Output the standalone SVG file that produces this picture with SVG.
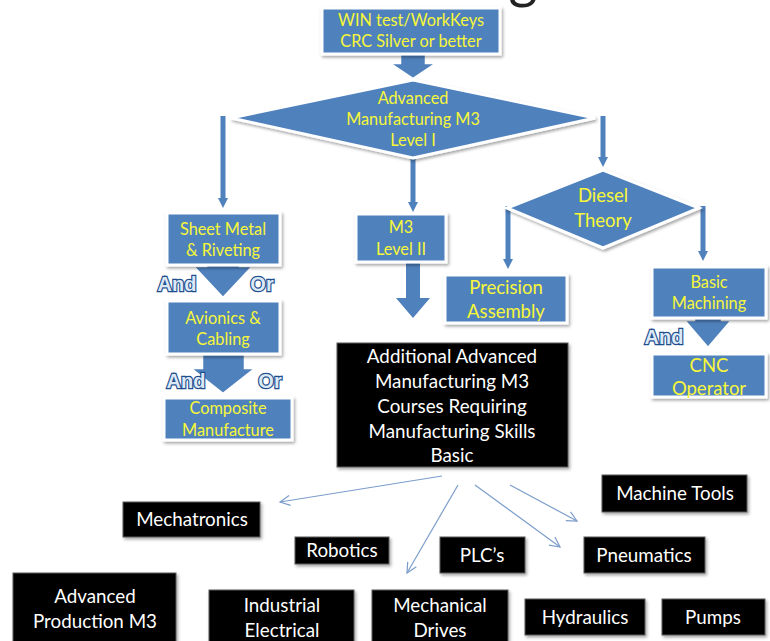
<svg xmlns="http://www.w3.org/2000/svg" width="770" height="641" viewBox="0 0 770 641">
<style>
.bb{fill:#4F81BD;stroke:#fff;stroke-width:3;filter:url(#sh)}
.bt{fill:#F7F73A;font-family:Lato,"Liberation Sans",sans-serif;font-size:16.3px;text-anchor:middle}
.bt2{fill:#F7F73A;font-family:Lato,"Liberation Sans",sans-serif;font-size:18.5px;text-anchor:middle}
.kb{fill:#000;stroke:#5a5a5a;stroke-width:1;filter:url(#sh)}
.kt{fill:#fff;font-family:Lato,"Liberation Sans",sans-serif;font-size:18.8px;text-anchor:middle}
.ln{stroke:#4F81BD;stroke-width:5;fill:none}
.ah{fill:#4F81BD}
.blk{fill:#4F81BD;stroke:#fff;stroke-width:2.5;stroke-linejoin:miter}
.thin{stroke:#7C9DCB;stroke-width:1.2;fill:none;marker-end:url(#oa)}
.wa{font-family:"Liberation Sans",sans-serif;font-weight:bold;font-size:20px;fill:#DCE8F6;stroke:#1F4E8C;stroke-width:2.4;paint-order:stroke;text-anchor:middle}
</style>
<defs>
<filter id="sh" x="-10%" y="-10%" width="130%" height="140%">
<feDropShadow dx="1.5" dy="2" stdDeviation="1.8" flood-color="#000" flood-opacity="0.35"/>
</filter>
<marker id="oa" viewBox="0 0 12 12" refX="11" refY="6" markerWidth="12" markerHeight="12" markerUnits="userSpaceOnUse" orient="auto">
<path d="M1,1 L11,6 L1,11" fill="none" stroke="#7C9DCB" stroke-width="1.2"/>
</marker>
</defs>
<rect width="770" height="641" fill="#fff"/>
<text x="523" y="-3" font-family="Lato,'Liberation Sans',sans-serif" font-size="56" fill="#222" text-anchor="middle">g</text>

<g id="connectors">
<polygon class="blk" points="400,53 426,53 426,63 437,63 413,79 389,63 400,63"/>
<line class="ln" x1="223" y1="116" x2="223" y2="199"/>
<polygon class="ah" points="218,198 228,198 223,208"/>
<line class="ln" x1="413" y1="156" x2="413" y2="203"/>
<polygon class="ah" points="408,202 418,202 413,212"/>
<line class="ln" x1="603" y1="116" x2="603" y2="158"/>
<polygon class="ah" points="598,157 608,157 603,167"/>
<line class="ln" x1="508" y1="206" x2="508" y2="260"/>
<polygon class="ah" points="503,259 513,259 508,269"/>
<line class="ln" x1="703" y1="206" x2="703" y2="252"/>
<polygon class="ah" points="698,251 708,251 703,261"/>
<polygon fill="#4F81BD" points="406,263 420,263 420,298 430,298 413,318 396,298 406,298"/>
<polygon class="blk" points="206,264 240,264 240,266 253,266 223,298 193,266 206,266"/>
<polygon class="blk" points="202,354 245,354 245,368 256,368 223,394 190,368 202,368"/>
<polygon class="blk" points="694,317 722,317 722,320 732,320 708,348 684,320 694,320"/>
<line class="thin" x1="442" y1="476" x2="280" y2="502"/>
<line class="thin" x1="458" y1="485" x2="407" y2="573"/>
<line class="thin" x1="475" y1="485" x2="560" y2="547"/>
<line class="thin" x1="510" y1="485" x2="577" y2="521"/>
</g>

<g id="win">
<rect class="bb" x="322" y="8" width="178" height="46"/>
<text class="bt" x="411" y="26">WIN test/WorkKeys</text>
<text class="bt" x="411" y="47">CRC Silver or better</text>
</g>

<g id="level1">
<polygon class="bb" points="413,80 595,118 413,158 231,118"/>
<text class="bt" x="413" y="104">Advanced</text>
<text class="bt" x="413" y="125">Manufacturing M3</text>
<text class="bt" x="413" y="146">Level I</text>
</g>

<g id="sheetmetal">
<rect class="bb" x="167" y="213" width="113" height="52"/>
<text class="bt" x="223" y="235">Sheet Metal</text>
<text class="bt" x="223" y="256">&amp; Riveting</text>
</g>

<g id="and1"><text class="wa" x="177" y="291">And</text></g>
<g id="or1"><text class="wa" x="262" y="291">Or</text></g>

<g id="avionics">
<rect class="bb" x="167" y="301" width="113" height="53"/>
<text class="bt" x="223" y="324">Avionics &amp;</text>
<text class="bt" x="223" y="345">Cabling</text>
</g>

<g id="and2"><text class="wa" x="186" y="388">And</text></g>
<g id="or2"><text class="wa" x="270" y="388">Or</text></g>

<g id="composite">
<rect class="bb" x="164" y="398" width="128" height="42"/>
<text class="bt" x="228" y="414">Composite</text>
<text class="bt" x="228" y="436">Manufacture</text>
</g>

<g id="level2">
<rect class="bb" x="356" y="214" width="90" height="48"/>
<text class="bt" x="401" y="233">M3</text>
<text class="bt" x="401" y="255">Level II</text>
</g>

<g id="diesel">
<polygon class="bb" points="603,170 699,208 603,248 507,208"/>
<text class="bt2" x="603" y="202">Diesel</text>
<text class="bt2" x="603" y="227">Theory</text>
</g>

<g id="precision">
<rect class="bb" x="445" y="275" width="122" height="48"/>
<text class="bt2" x="506" y="294">Precision</text>
<text class="bt2" x="506" y="318">Assembly</text>
</g>

<g id="basicmachining">
<rect class="bb" x="652" y="267" width="114" height="51"/>
<text class="bt" x="709" y="288">Basic</text>
<text class="bt" x="709" y="309">Machining</text>
</g>

<g id="and3"><text class="wa" x="664" y="344">And</text></g>

<g id="cnc">
<rect class="bb" x="652" y="354" width="114" height="43"/>
<text class="bt2" x="709" y="372">CNC</text>
<text class="bt2" x="709" y="395">Operator</text>
</g>

<g id="additional">
<rect class="kb" x="337" y="343" width="231" height="124"/>
<text class="kt" x="452" y="363">Additional Advanced</text>
<text class="kt" x="452" y="388">Manufacturing M3</text>
<text class="kt" x="452" y="413">Courses Requiring</text>
<text class="kt" x="452" y="438">Manufacturing Skills</text>
<text class="kt" x="452" y="462">Basic</text>
</g>

<g id="machinetools">
<rect class="kb" x="602" y="475" width="145" height="37"/>
<text class="kt" x="675" y="500">Machine Tools</text>
</g>

<g id="mechatronics">
<rect class="kb" x="123" y="502" width="137" height="35"/>
<text class="kt" x="192" y="526">Mechatronics</text>
</g>

<g id="robotics">
<rect class="kb" x="295" y="537" width="94" height="27"/>
<text class="kt" x="342" y="557">Robotics</text>
</g>

<g id="plcs">
<rect class="kb" x="440" y="537" width="85" height="36"/>
<text class="kt" x="482" y="562">PLC’s</text>
</g>

<g id="pneumatics">
<rect class="kb" x="584" y="537" width="121" height="36"/>
<text class="kt" x="644" y="562">Pneumatics</text>
</g>

<g id="advprod">
<rect class="kb" x="13" y="573" width="163" height="72"/>
<text class="kt" x="95" y="603">Advanced</text>
<text class="kt" x="95" y="628">Production M3</text>
</g>

<g id="industrial">
<rect class="kb" x="209" y="590" width="145" height="55"/>
<text class="kt" x="282" y="612">Industrial</text>
<text class="kt" x="282" y="637">Electrical</text>
</g>

<g id="mechdrives">
<rect class="kb" x="372" y="590" width="136" height="55"/>
<text class="kt" x="440" y="612">Mechanical</text>
<text class="kt" x="440" y="637">Drives</text>
</g>

<g id="hydraulics">
<rect class="kb" x="525" y="599" width="120" height="36"/>
<text class="kt" x="585" y="624">Hydraulics</text>
</g>

<g id="pumps">
<rect class="kb" x="662" y="599" width="103" height="36"/>
<text class="kt" x="713" y="624">Pumps</text>
</g>
</svg>
